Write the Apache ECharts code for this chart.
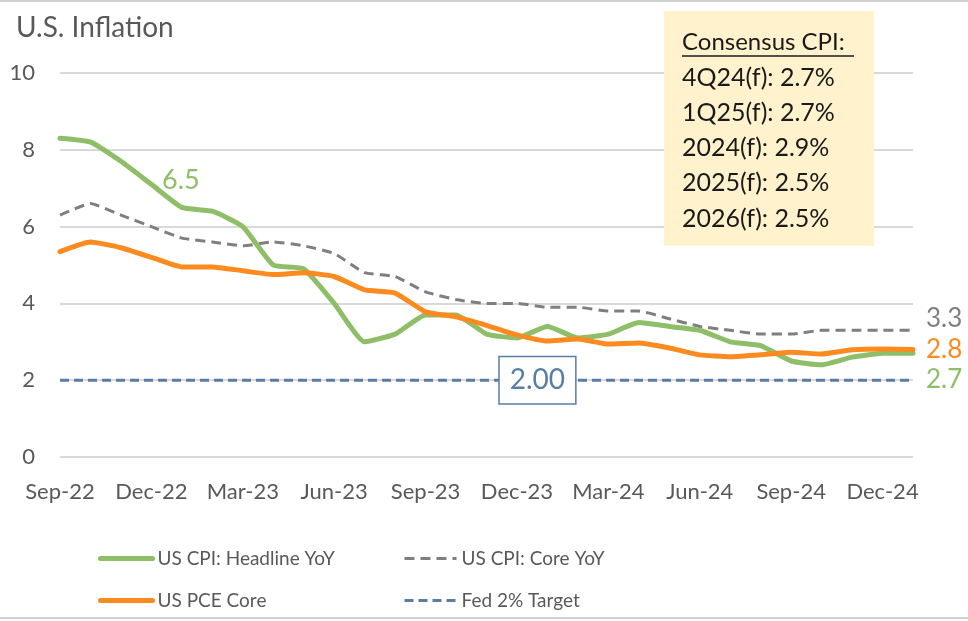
<!DOCTYPE html>
<html>
<head>
<meta charset="utf-8">
<script src="https://cdn.jsdelivr.net/npm/echarts@6/dist/echarts.min.js"></script>
<style>html,body{margin:0;padding:0;background:#fff;}#c{width:968px;height:621px;}</style>
</head>
<body>
<div id="c"></div>
<script>
const months = ['Sep-22','Oct-22','Nov-22','Dec-22','Jan-23','Feb-23','Mar-23','Apr-23','May-23','Jun-23','Jul-23','Aug-23',
  'Sep-23','Oct-23','Nov-23','Dec-23','Jan-24','Feb-24','Mar-24','Apr-24','May-24','Jun-24','Jul-24','Aug-24',
  'Sep-24','Oct-24','Nov-24','Dec-24','Jan-25'];
const cpiHeadline = [8.3,8.2,7.7,7.1,6.5,6.4,6.0,5.0,4.9,4.0,3.0,3.2,3.7,3.7,3.2,3.1,3.4,3.1,3.2,3.5,3.4,3.3,3.0,2.9,2.5,2.4,2.6,2.7,2.7];
const cpiCore = [6.3,6.6,6.3,6.0,5.7,5.6,5.5,5.6,5.5,5.3,4.8,4.7,4.3,4.1,4.0,4.0,3.9,3.9,3.8,3.8,3.6,3.4,3.3,3.2,3.2,3.3,3.3,3.3,3.3];
const pceCore = [5.35,5.6,5.45,5.2,4.95,4.95,4.85,4.75,4.8,4.7,4.35,4.27,3.78,3.65,3.43,3.18,3.02,3.07,2.94,2.97,2.84,2.66,2.61,2.66,2.73,2.68,2.79,2.81,2.8];
const fedTarget = months.map(() => 2);
const seriesNames = ['US CPI: Headline YoY','US CPI: Core YoY','US PCE Core','Fed 2% Target'];
const consensusTitle = 'Consensus CPI:';
const consensusLines = ['4Q24(f): 2.7%','1Q25(f): 2.7%','2024(f): 2.9%','2025(f): 2.5%','2026(f): 2.5%'];
const yTicks = {min:0, max:10, interval:2};
const peakLabelIdx = 4;    // "6.5" callout on headline CPI
const targetLabelIdx = 16; // "2.00" box on Fed target

const FONT = 'Lato, "Open Sans", sans-serif';
const GREEN = '#8FBE68', ORANGE = '#FB8B1E', GRAY = '#7F7F7F', BLUE = '#5A7DA6', TXT = '#595959';
const CLEAR = 'rgba(0,0,0,0)';

const chart = echarts.init(document.getElementById('c'), null, {renderer:'canvas'});

const greenData = cpiHeadline.map((v,i) => i === peakLabelIdx
  ? {value:v, symbolSize:2, itemStyle:{color:CLEAR, borderWidth:0},
     label:{show:true, position:'top', distance:0, offset:[-1,-13], formatter:'{c}', color:GREEN, fontSize:27, fontFamily:FONT}}
  : v);
const fedData = fedTarget.map((v,i) => i === targetLabelIdx
  ? {value:v, symbolSize:2, itemStyle:{color:CLEAR, borderWidth:0},
     label:{show:true, position:'inside', offset:[-10,0], formatter: p => Number(p.value).toFixed(2), color:BLUE, fontSize:28, lineHeight:28, fontFamily:FONT,
       backgroundColor:'#fff', borderColor:BLUE, borderWidth:1.5, padding:[9,10,9,10]}}
  : v);

const endLbl = (color, dy) => ({show:true, formatter: p => String(p.value), color, fontSize:26, fontFamily:FONT, distance:13, offset:[0,dy]});

const option = {
  animation:false,
  backgroundColor:'#fff',
  textStyle:{fontFamily:FONT},
  grid:{left:60, right:55, top:73, bottom:164, containLabel:false},
  xAxis:{type:'category', data:months, boundaryGap:false,
    axisLine:{show:false}, axisTick:{show:false},
    axisLabel:{interval:2, color:TXT, fontSize:22, fontFamily:FONT, margin:24}},
  yAxis:{type:'value', min:yTicks.min, max:yTicks.max, interval:yTicks.interval,
    axisLine:{show:false}, axisTick:{show:false},
    axisLabel:{color:TXT, fontSize:22, fontFamily:FONT, margin:25},
    splitLine:{lineStyle:{color:'#D9D9D9', width:2}}},
  legend:[
    {data:[{name:seriesNames[0], lineStyle:{width:5}}, {name:seriesNames[2], lineStyle:{width:5}}],
      orient:'vertical', left:93, top:544, itemWidth:52, itemHeight:14, itemGap:23,
      itemStyle:{opacity:0}, textStyle:{color:TXT, fontSize:19, fontFamily:FONT}},
    {data:[{name:seriesNames[1], lineStyle:{width:3}}, {name:seriesNames[3], lineStyle:{width:3}}],
      orient:'vertical', left:398, top:544, itemWidth:52, itemHeight:14, itemGap:23,
      itemStyle:{opacity:0}, textStyle:{color:TXT, fontSize:19, fontFamily:FONT}}
  ],
  series:[
    {name:seriesNames[3], type:'line', data:fedData, symbol:'circle', symbolSize:0, showSymbol:true, z:2,
      lineStyle:{color:BLUE, width:3, type:[9,5]}, itemStyle:{color:BLUE}},
    {name:seriesNames[1], type:'line', data:cpiCore, symbol:'none', z:3, smooth:0.15,
      lineStyle:{color:GRAY, width:3, type:[10,6]}, itemStyle:{color:GRAY},
      endLabel:endLbl(GRAY,-12)},
    {name:seriesNames[0], type:'line', data:greenData, symbol:'circle', symbolSize:0, showSymbol:true, z:4, smooth:0.15,
      lineStyle:{color:GREEN, width:5, cap:'round', join:'round'}, itemStyle:{color:GREEN},
      endLabel:endLbl(GREEN,26)},
    {name:seriesNames[2], type:'line', data:pceCore, symbol:'none', z:5, smooth:0.15,
      lineStyle:{color:ORANGE, width:5, cap:'round', join:'round'}, itemStyle:{color:ORANGE},
      endLabel:endLbl(ORANGE,0)}
  ],
  graphic:[
    {type:'line', shape:{x1:0,y1:1,x2:968,y2:1}, style:{stroke:'#D0D0D0', lineWidth:2}, silent:true},
    {type:'line', shape:{x1:0,y1:618,x2:968,y2:618}, style:{stroke:'#D0D0D0', lineWidth:2}, silent:true},
    {type:'text', left:16, top:14, style:{text:'U.S. Inflation', fill:TXT, fontSize:28, fontFamily:FONT}},
    {type:'group', left:664, top:11, z:100, children:[
      {type:'rect', z:100, shape:{x:0,y:0,width:210,height:235}, style:{fill:'#FFF2CC'}},
      {type:'text', z:101, x:18, y:19, style:{text:consensusTitle, fill:'#1a1a1a', fontSize:24, fontFamily:FONT}},
      {type:'line', z:101, shape:{x1:18,y1:45,x2:190,y2:45}, style:{stroke:'#1a1a1a', lineWidth:1.5}},
      ...consensusLines.map((t,i) => ({type:'text', z:101, x:18, y:54 + i*35.3, style:{text:t, fill:'#1a1a1a', fontSize:25, fontFamily:FONT}}))
    ]}
  ]
};
chart.setOption(option);
</script>
</body>
</html>
